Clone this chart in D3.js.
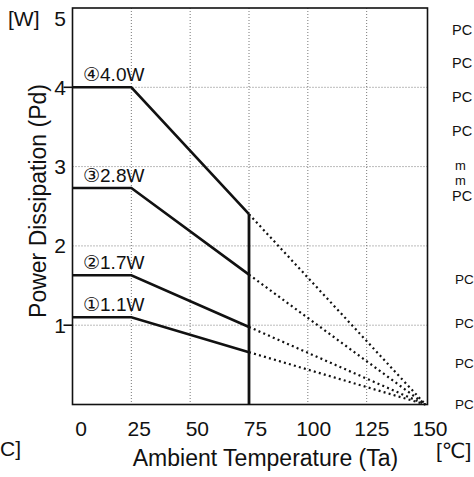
<!DOCTYPE html>
<html><head><meta charset="utf-8">
<script src="https://cdn.jsdelivr.net/npm/d3@7"></script>
<style>
html,body{margin:0;padding:0;background:#fff;}
svg text{font-family:"Liberation Sans",Arial,"DejaVu Sans",sans-serif;fill:#111;}
</style></head>
<body><svg id="c" width="474" height="477"></svg>
<script>
// ---- data ----
const ratings = [4.0, 2.73, 1.63, 1.1];           // drawn Pd plateau (W)
const ratingLabels = ["④4.0W", "③2.8W", "②1.7W", "①1.1W"];
const kneeTemp = 25;       // derating start (°C)
const cutTemp = 75;        // end of solid segment (°C)
const maxTemp = 150;       // Pd = 0 here (°C)
const xTicks = [0, 25, 50, 75, 100, 125, 150];
const xGrid = [25, 50, 75, 100, 125];
const yTicks = [1, 2, 3, 4, 5];
const yGrid = [1, 2, 3, 4];
const yOuterTicks = [1, 4];
const sideTextsTop = ["PC", "PC", "PC", "PC", "m", "m", "PC"];
const sideTextsBottom = ["PC", "PC", "PC", "PC"];

const svg = d3.select("#c");
const x = d3.scaleLinear().domain([0, 150]).range([72.5, 425.5]);
const xl = d3.scaleLinear().domain([0, 150]).range([81, 430]);
const y = d3.scaleLinear().domain([0, 5]).range([404.5, 8]);

// grid
svg.append("g").selectAll("line").data(xGrid).join("line")
  .attr("x1", d => x(d)).attr("x2", d => x(d)).attr("y1", y(5)).attr("y2", y(0))
  .attr("stroke", "#777").attr("stroke-width", 1).attr("stroke-dasharray", "1,2");
svg.append("g").selectAll("line").data(yGrid).join("line")
  .attr("x1", x(0)).attr("x2", x(150) + 2).attr("y1", d => y(d)).attr("y2", d => y(d))
  .attr("stroke", "#777").attr("stroke-width", 1).attr("stroke-dasharray", "1,2");

// frame
svg.append("rect").attr("x", x(0)).attr("y", y(5)).attr("width", x(150) + 2 - x(0)).attr("height", y(0) - y(5))
  .attr("fill", "none").attr("stroke", "#111").attr("stroke-width", 1.6);

// outer ticks
svg.append("g").selectAll("line").data(yOuterTicks).join("line")
  .attr("x1", x(0) - 9).attr("x2", x(0)).attr("y1", d => y(d)).attr("y2", d => y(d))
  .attr("stroke", "#111").attr("stroke-width", 1.6);

const line = d3.line().x(d => x(d[0])).y(d => y(d[1]));
const derate = (p, t) => p * (maxTemp - t) / (maxTemp - kneeTemp);

// dotted extensions
svg.append("g").selectAll("path").data(ratings).join("path")
  .attr("d", p => line([[cutTemp, derate(p, cutTemp)], [maxTemp, 0]]))
  .attr("fill", "none").attr("stroke", "#111").attr("stroke-width", 2.2).attr("stroke-dasharray", "2,3.2");

// solid derating lines
svg.append("g").selectAll("path").data(ratings).join("path")
  .attr("d", p => line([[0, p], [kneeTemp, p], [cutTemp, derate(p, cutTemp)]]))
  .attr("fill", "none").attr("stroke", "#111").attr("stroke-width", 2.6);

// vertical cut line
svg.append("line").attr("x1", x(cutTemp)).attr("x2", x(cutTemp))
  .attr("y1", y(0)).attr("y2", y(derate(d3.max(ratings), cutTemp)))
  .attr("stroke", "#111").attr("stroke-width", 2.8);

// series labels
svg.append("g").selectAll("text").data(ratings).join("text")
  .attr("x", 83).attr("y", p => y(p) - 6)
  .attr("font-size", 19).text((p, i) => ratingLabels[i]);

// y tick labels
svg.append("g").selectAll("text").data(yTicks).join("text")
  .attr("x", 66).attr("y", d => d === 5 ? y(d) + 18 : y(d) + 7.5)
  .attr("text-anchor", "end").attr("font-size", 21).text(d => d);
svg.append("text").attr("x", 8).attr("y", y(5) + 18).attr("font-size", 21).text("[W]");

// x tick labels
svg.append("g").selectAll("text").data(xTicks).join("text")
  .attr("x", d => xl(d)).attr("y", 436)
  .attr("text-anchor", "middle").attr("font-size", 21).text(d => d);

// axis titles
svg.append("text").attr("x", 265.5).attr("y", 466).attr("text-anchor", "middle")
  .attr("font-size", 23).text("Ambient Temperature (Ta)");
svg.append("text").attr("transform", "translate(46,201) rotate(-90)").attr("text-anchor", "middle")
  .attr("font-size", 23).text("Power Dissipation (Pd)");

// unit labels
svg.append("text").attr("x", 436).attr("y", 458).attr("font-size", 21).text("[℃]");
svg.append("text").attr("x", 0).attr("y", 456).attr("font-size", 21).text("C]");

// side texts at the right edge
const topY = [35, 68, 102, 136, 170, 185, 201];
svg.append("g").selectAll("text").data(sideTextsTop).join("text")
  .attr("x", d => (d === "m" ? 455 : 452)).attr("y", (d, i) => topY[i])
  .attr("font-size", d => (d === "m" ? 13 : 14.5)).text(d => d);
const botY = [284, 328, 368, 409];
svg.append("g").selectAll("text").data(sideTextsBottom).join("text")
  .attr("x", 455).attr("y", (d, i) => botY[i])
  .attr("font-size", 13.5).text(d => d);
</script></body></html>
